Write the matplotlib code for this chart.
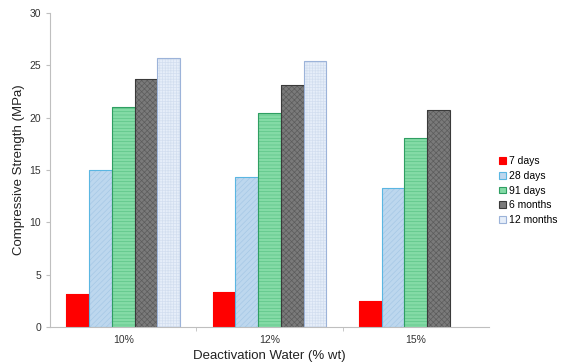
import numpy as np
import matplotlib.pyplot as plt

plt.rcParams['font.family'] = ['Liberation Sans', 'DejaVu Sans']
plt.rcParams['hatch.linewidth'] = 0.5

# Compressive strength by deactivation water content
categories = ['10%', '12%', '15%']
series = ['7 days', '28 days', '91 days', '6 months', '12 months']
values = [
    [3.15, 3.3, 2.5],
    [15.05, 14.35, 13.25],
    [21.0, 20.45, 18.1],
    [23.7, 23.1, 20.7],
    [25.75, 25.4, np.nan],
]

faces = ['#ff0000', '#bdd7ee', '#84dba6', '#7a7a7a', '#e6eef9']
edges = ['#ff0000', '#5ab6e2', '#2f9e62', '#3a3a3a', '#9cb3d9']
hatch_cols = [None, '#a6c8e6', '#5cc487', '#5c5c5c', '#d2deef']
hatches = [None, '//////', '-----', 'xxxxxx', '++++++']

fig = plt.figure(figsize=(5.64, 3.64), dpi=100)
ax = fig.add_axes([0.0887, 0.1016, 0.7783, 0.8626])

x = np.arange(len(categories))
w = 0.155
handles = []
for i, name in enumerate(series):
    pos = x + (i - 2) * w
    ax.bar(pos, values[i], w, color=faces[i], linewidth=0)
    if hatches[i]:
        # hatch drawn separately so its lines can be lighter than the outline
        ax.bar(pos, values[i], w, facecolor='none', edgecolor=hatch_cols[i],
               hatch=hatches[i], linewidth=0)
    ax.bar(pos, values[i], w, facecolor='none', edgecolor=edges[i], linewidth=0.8)
    h = plt.Rectangle((0, 0), 1, 1, facecolor=faces[i], edgecolor=edges[i],
                      hatch=None, linewidth=0.8)
    handles.append(h)

ax.set_xlim(-0.5, 2.5)
ax.set_ylim(0, 30)
ax.set_yticks(range(0, 31, 5))
ax.set_xticks(x)
ax.set_xticklabels(categories)
ax.set_xticks([0.5, 1.5], minor=True)
ax.tick_params(axis='x', which='major', length=0, labelsize=7.5, pad=6)
ax.tick_params(axis='x', which='minor', length=3, color='#bfbfbf')
ax.tick_params(axis='y', length=3, color='#bfbfbf', labelsize=7.5, labelcolor='#333333')
ax.tick_params(axis='x', labelcolor='#333333')
for s in ['top', 'right']:
    ax.spines[s].set_visible(False)
for s in ['left', 'bottom']:
    ax.spines[s].set_color('#bfbfbf')
    ax.spines[s].set_linewidth(0.8)

ax.set_ylabel('Compressive Strength (MPa)', fontsize=9.5, color='#222222', labelpad=3)
ax.set_xlabel('Deactivation Water (% wt)', fontsize=9.5, color='#222222', labelpad=3)

fig.legend(handles, series, loc='upper left', bbox_to_anchor=(0.876, 0.585), frameon=False,
           fontsize=7.5, handlelength=0.65, handleheight=0.65, handletextpad=0.25,
           labelspacing=0.45, borderpad=0)

fig.savefig('out.png', dpi=100)
